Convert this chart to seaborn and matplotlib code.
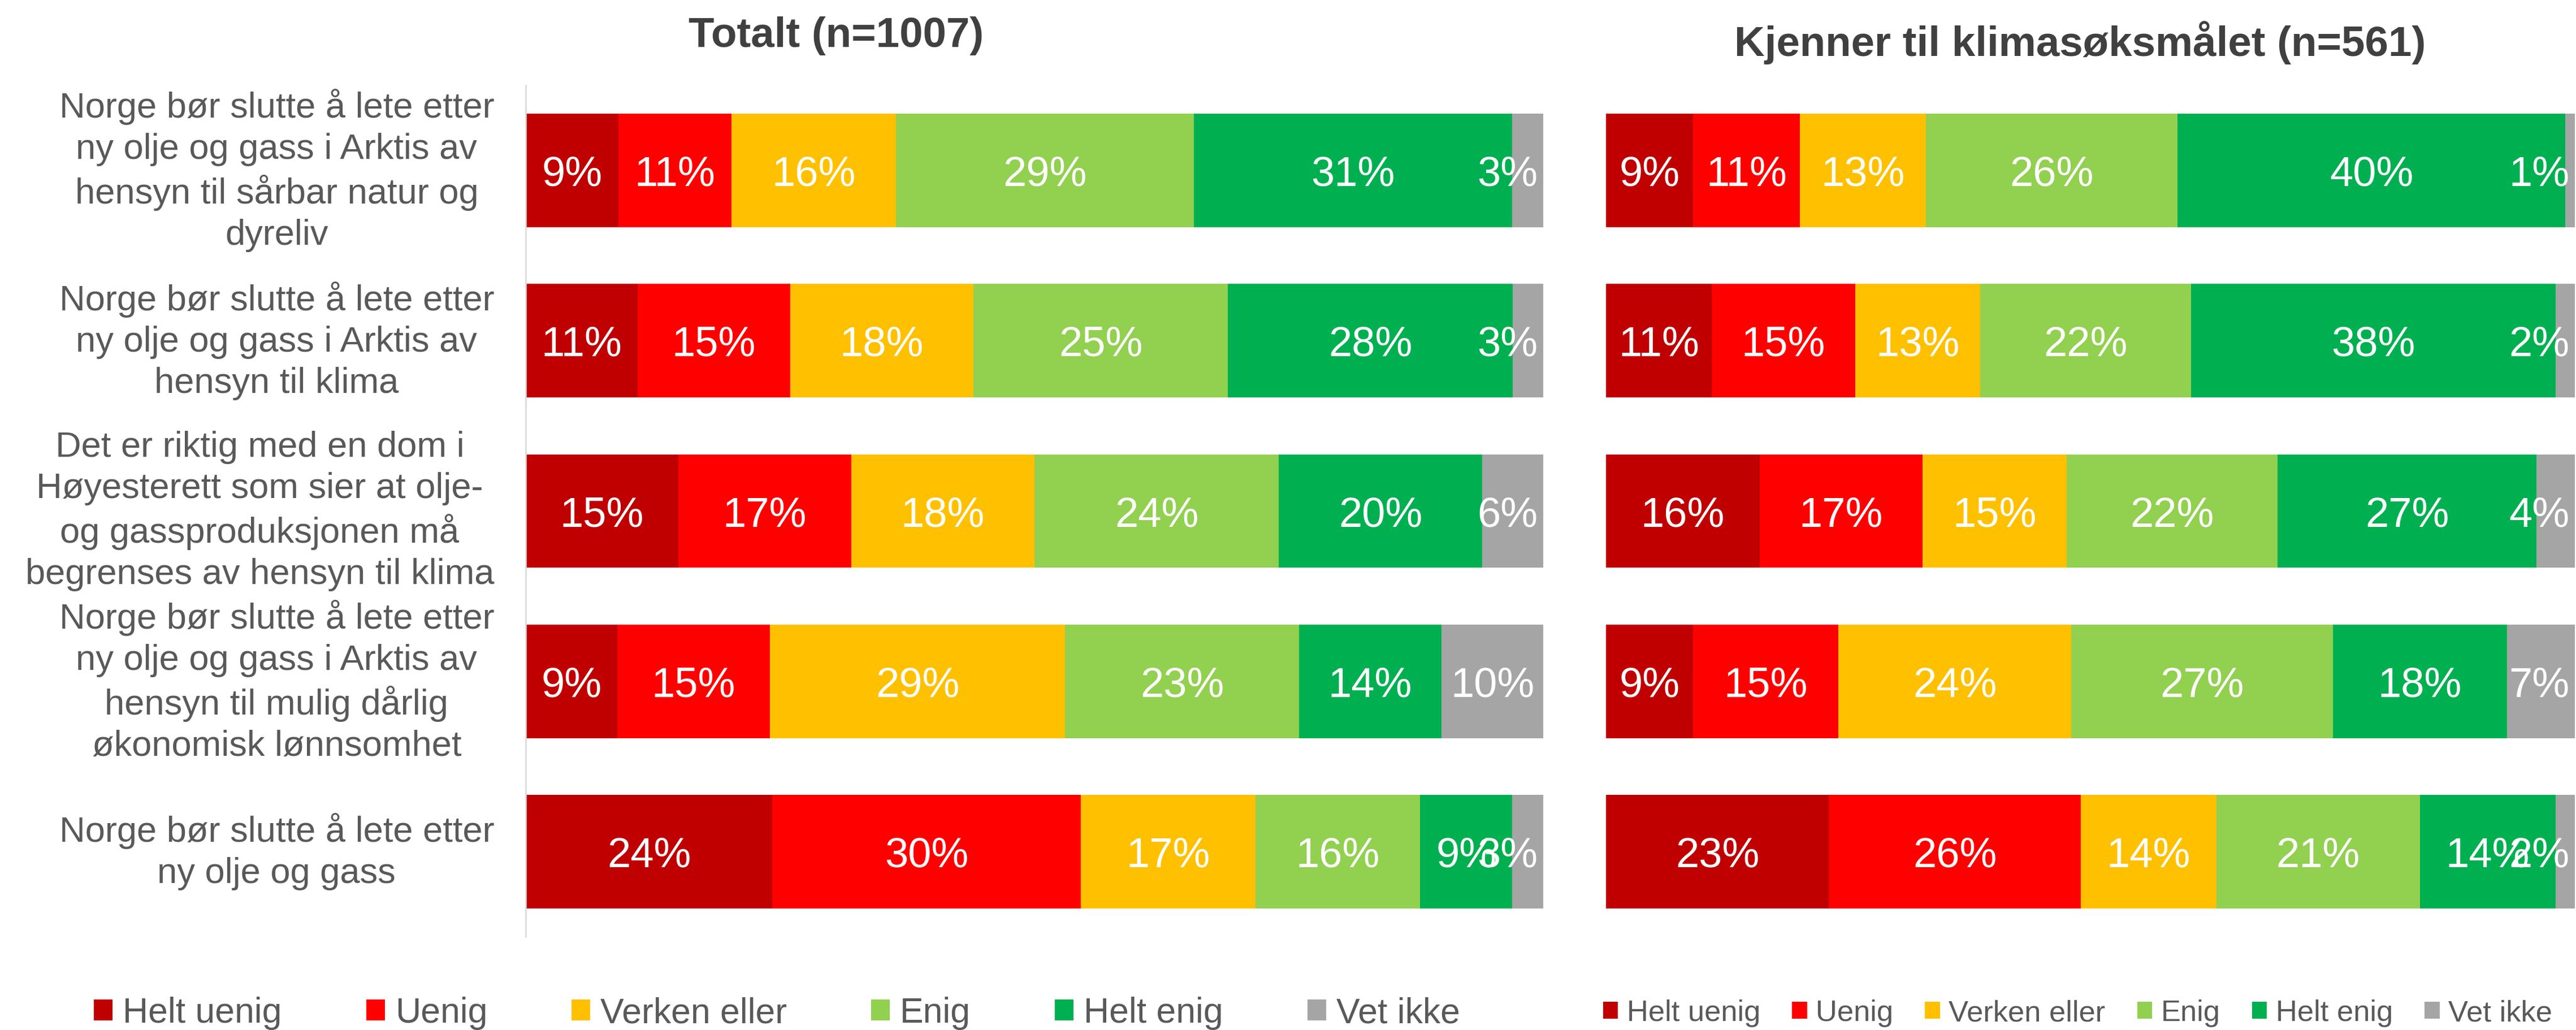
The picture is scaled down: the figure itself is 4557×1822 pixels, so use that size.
import numpy as np
import pandas as pd
import matplotlib
matplotlib.use("Agg")
import matplotlib.pyplot as plt
from matplotlib.patches import Patch
import seaborn as sns

# ---------------- data ----------------
categories = [
    "Norge bør slutte å lete etter\nny olje og gass i Arktis av\nhensyn til sårbar natur og\ndyreliv",
    "Norge bør slutte å lete etter\nny olje og gass i Arktis av\nhensyn til klima",
    "Det er riktig med en dom i\nHøyesterett som sier at olje-\nog gassproduksjonen må\nbegrenses av hensyn til klima",
    "Norge bør slutte å lete etter\nny olje og gass i Arktis av\nhensyn til mulig dårlig\nøkonomisk lønnsomhet",
    "Norge bør slutte å lete etter\nny olje og gass",
]
responses = ["Helt uenig", "Uenig", "Verken eller", "Enig", "Helt enig", "Vet ikke"]
colors = ["#C00000", "#FF0000", "#FFC000", "#92D050", "#00B050", "#A5A5A5"]

title_total = "Totalt (n=1007)"
title_known = "Kjenner til klimasøksmålet (n=561)"

# Totalt (n=1007)
helt_uenig_tot = [9, 11, 15, 9, 24]
uenig_tot = [11, 15, 17, 15, 30]
verken_tot = [16, 18, 18, 29, 17]
enig_tot = [29, 25, 24, 23, 16]
helt_enig_tot = [31, 28, 20, 14, 9]
vet_ikke_tot = [3, 3, 6, 10, 3]

# Kjenner til klimasøksmålet (n=561)
helt_uenig_kj = [9, 11, 16, 9, 23]
uenig_kj = [11, 15, 17, 15, 26]
verken_kj = [13, 13, 15, 24, 14]
enig_kj = [26, 22, 22, 27, 21]
helt_enig_kj = [40, 38, 27, 18, 14]
vet_ikke_kj = [1, 2, 4, 7, 2]

# ---------------- style ----------------
sns.set_theme(style="white")
plt.rcParams["font.family"] = ["Liberation Sans", "DejaVu Sans"]

W, H, DPI = 4557, 1822, 300
fig = plt.figure(figsize=((W + 1e-3) / DPI, (H + 1e-3) / DPI), dpi=DPI)
fig.patch.set_facecolor("white")

ax_l = fig.add_axes([930 / W, 1 - 1657 / H, 1800 / W, 1506 / H])
ax_r = fig.add_axes([2841 / W, 1 - 1657 / H, 1714 / W, 1506 / H])

LABEL_FS = 17.8
all_labels = []


def draw_panel(ax, series):
    data = np.array(series, dtype=float).T            # rows = categories
    shares = data / data.sum(axis=1, keepdims=True) * 100  # 100% stacked
    cum = np.cumsum(shares, axis=1)
    for k in range(len(responses) - 1, -1, -1):
        df = pd.DataFrame({"cat": categories, "val": cum[:, k]})
        sns.barplot(data=df, x="val", y="cat", order=categories, orient="h",
                    color=colors[k], saturation=1, width=0.667,
                    errorbar=None, linewidth=0, ax=ax)
    labels = []
    for i in range(len(categories)):
        for k in range(len(responses)):
            c = cum[i, k] - shares[i, k] / 2
            t = ax.text(c, i, f"{data[i, k]:.0f}%", ha="center",
                        va="center_baseline", color="white", fontsize=LABEL_FS,
                        zorder=5)
            labels.append(t)
    ax.set_xlim(0, 100)
    ax.set_ylim(len(categories) - 0.5, -0.5)
    ax.set_xticks([])
    ax.set_xlabel("")
    ax.set_ylabel("")
    all_labels.append((ax, labels))


draw_panel(ax_l, [helt_uenig_tot, uenig_tot, verken_tot, enig_tot, helt_enig_tot, vet_ikke_tot])
draw_panel(ax_r, [helt_uenig_kj, uenig_kj, verken_kj, enig_kj, helt_enig_kj, vet_ikke_kj])

# left axis: category labels
ax_l.set_yticks(range(len(categories)))
ax_l.set_yticklabels(categories, fontsize=15.2, color="#595959")
for t in ax_l.get_yticklabels():
    t.set_ha("right")
    t.set_va("center")
    t.set_multialignment("center")
    t.set_linespacing(1.3)
ax_l.tick_params(axis="y", length=0, pad=13.4)
for s in ["top", "right", "bottom"]:
    ax_l.spines[s].set_visible(False)
ax_l.spines["left"].set_color("#D9D9D9")
ax_l.spines["left"].set_linewidth(0.6)

ax_r.set_yticks([])
for s in ax_r.spines.values():
    s.set_visible(False)

# titles
fig.text(1479 / W, 1 - 83 / H, title_total, ha="center", va="baseline",
         fontsize=17.9, fontweight="bold", color="#404040")
fig.text(3680 / W, 1 - 99 / H, title_known, ha="center", va="baseline",
         fontsize=17.9, fontweight="bold", color="#404040")

# legends
handles = [Patch(facecolor=c, edgecolor="none", label=r) for c, r in zip(colors, responses)]
fig.legend(handles=handles, loc="center", bbox_to_anchor=(1374.5 / W, 1 - 1792.5 / H),
           ncol=6, frameon=False, fontsize=15, handlelength=0.528, handleheight=0.528,
           handletextpad=0.29, columnspacing=2.38, borderpad=0, borderaxespad=0,
           labelcolor="#595959")
fig.legend(handles=handles, loc="center", bbox_to_anchor=(3675.5 / W, 1 - 1792.5 / H),
           ncol=6, frameon=False, fontsize=12.6, handlelength=0.505, handleheight=0.505,
           handletextpad=0.295, columnspacing=1.07, borderpad=0, borderaxespad=0,
           labelcolor="#595959")

# keep data labels inside the plot area (as the original does)
fig.canvas.draw()
renderer = fig.canvas.get_renderer()
for ax, labels in all_labels:
    right_px = ax.get_window_extent(renderer).x1 - 10
    for t in labels:
        bb = t.get_window_extent(renderer)
        if bb.x1 > right_px:
            x_data = ax.transData.inverted().transform((right_px, 0))[0]
            t.set_ha("right")
            t.set_x(x_data)

fig.savefig("out.png", dpi=DPI, facecolor="white")
